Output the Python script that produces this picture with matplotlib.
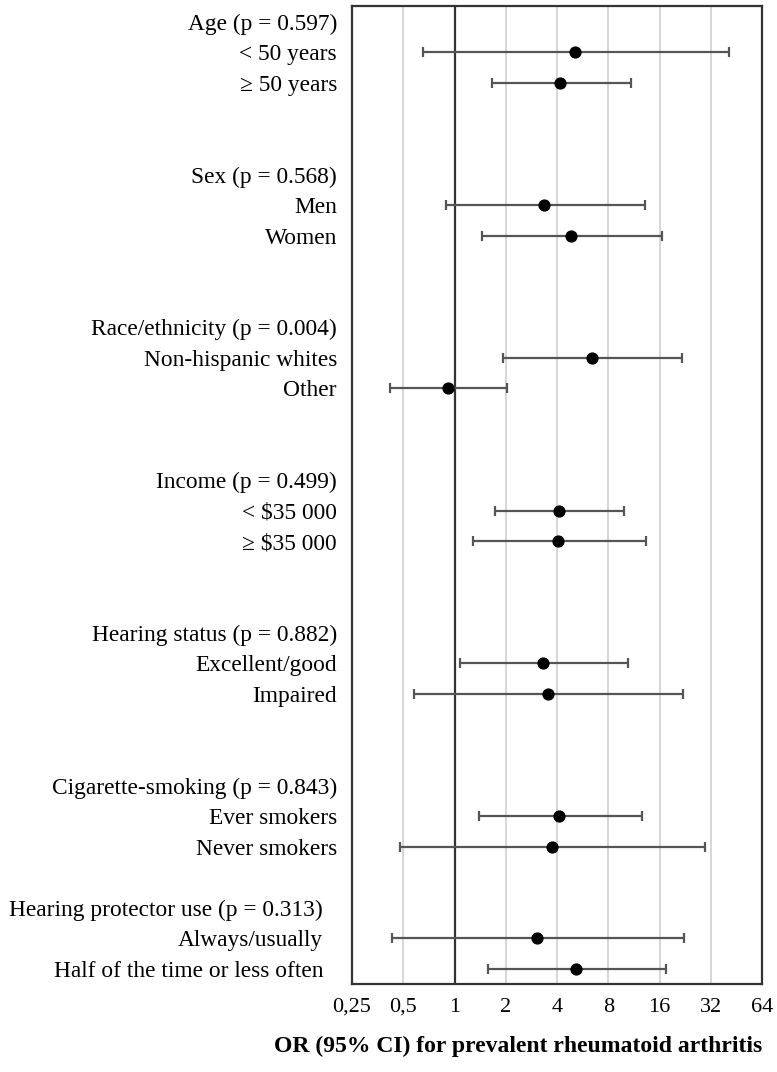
import matplotlib
matplotlib.use("Agg")
import matplotlib.pyplot as plt
import matplotlib.transforms as mtransforms
import numpy as np

# ---- data ----
headers = ["Age (p = 0.597)", "Sex (p = 0.568)", "Race/ethnicity (p = 0.004)",
           "Income (p = 0.499)", "Hearing status (p = 0.882)",
           "Cigarette-smoking (p = 0.843)", "Hearing protector use (p = 0.313)"]
header_rows = [0, 5, 10, 15, 20, 25, 29]

subgroups = ["< 50 years", "\u2265 50 years", "Men", "Women",
             "Non-hispanic whites", "Other", "< $35 000", "\u2265 $35 000",
             "Excellent/good", "Impaired", "Ever smokers", "Never smokers",
             "Always/usually", "Half of the time or less often"]
sub_rows = [1, 2, 6, 7, 11, 12, 16, 17, 21, 22, 26, 27, 30, 31]
odds_ratio = [5.08, 4.19, 3.37, 4.81, 6.45, 0.91, 4.11, 4.08, 3.31, 3.56, 4.13, 3.74, 3.06, 5.2]
ci_low = [0.65, 1.67, 0.89, 1.46, 1.94, 0.42, 1.72, 1.28, 1.07, 0.58, 1.40, 0.48, 0.43, 1.58]
ci_high = [41.1, 10.9, 13.1, 16.6, 21.8, 2.04, 9.95, 13.3, 10.5, 22.0, 12.7, 29.8, 22.2, 17.5]

x_ticks = [0.25, 0.5, 1, 2, 4, 8, 16, 32, 64]
x_tick_labels = ["0,25", "0,5", "1", "2", "4", "8", "16", "32", "64"]
x_label = "OR (95% CI) for prevalent rheumatoid arthritis"

# ---- figure ----
W, H = 777, 1072
fig = plt.figure(figsize=(W / 100, H / 100), dpi=100)
ax = fig.add_axes([352 / W, 1 - 984 / H, (762 - 352) / W, (984 - 6) / H])

serif = ["Liberation Serif", "DejaVu Serif"]
fs = 16.8

ax.set_xscale("log", base=2)
ax.set_xlim(0.25, 64)
ax.set_ylim(31.5, -0.52)

for t in x_ticks[1:-1]:
    ax.axvline(t, color="#d0d0d0", lw=1.2, zorder=0)
ax.axvline(1, color="#333333", lw=1.6, zorder=1)

or_arr = np.array(odds_ratio)
err = np.vstack([or_arr - np.array(ci_low), np.array(ci_high) - or_arr])
ax.errorbar(or_arr, sub_rows, xerr=err, fmt="o", color="black", ms=7.8,
            ecolor="#555555", elinewidth=1.6, capsize=3.5, capthick=1.6, zorder=3)

ax.set_xticks(x_ticks)
ax.set_xticklabels(x_tick_labels, fontfamily=serif, fontsize=16)
ax.xaxis.set_minor_locator(matplotlib.ticker.NullLocator())
ax.tick_params(axis="x", length=0, pad=10)
ax.set_yticks([])
for s in ax.spines.values():
    s.set_color("#333333")
    s.set_linewidth(1.6)

# left labels
def label_x(row):
    return (337 if row < 28 else 323)

trans = mtransforms.blended_transform_factory(mtransforms.IdentityTransform(), ax.transData)
for txt, r in zip(headers, header_rows):
    ax.text(label_x(r), r, txt, transform=trans, ha="right", va="center_baseline",
            fontsize=fs, fontfamily=serif)
for txt, r in zip(subgroups, sub_rows):
    ax.text(label_x(r), r, txt, transform=trans, ha="right", va="center_baseline",
            fontsize=fs, fontfamily=serif)

fig.text(518 / W, 1 - 1046 / H, x_label, ha="center", va="center",
         fontsize=17, fontweight="bold", fontfamily=serif)

fig.savefig("out.png", dpi=100)
